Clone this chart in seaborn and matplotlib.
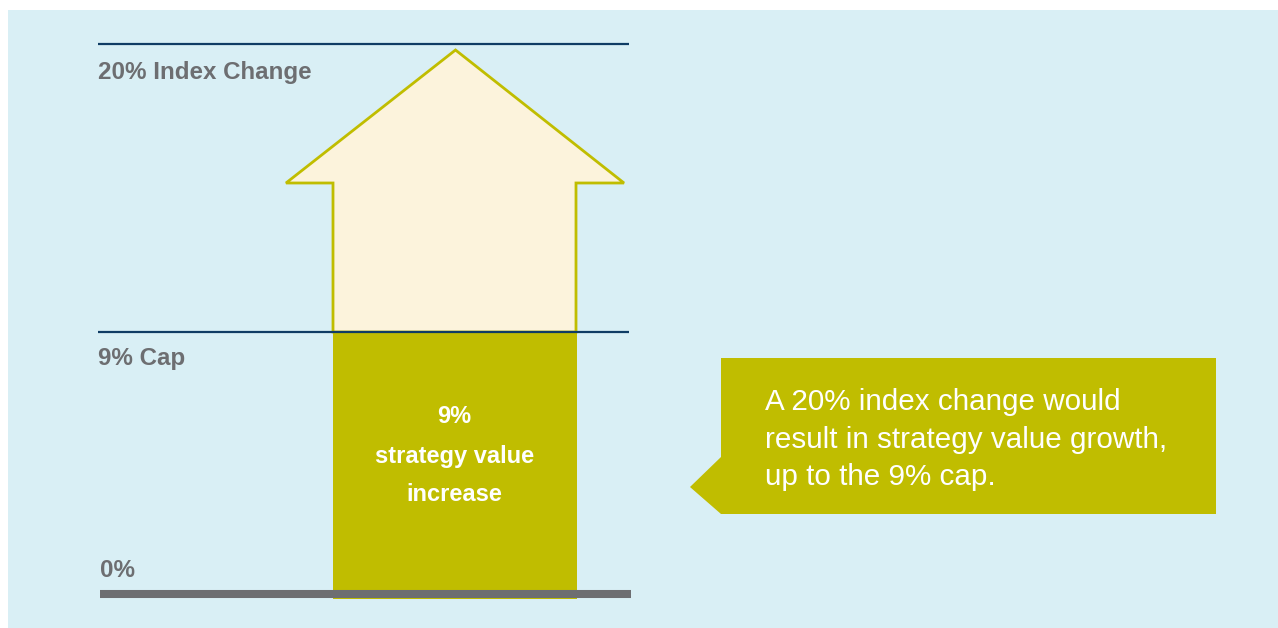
"""
Cap illustration: a 20% index change is credited only up to the 9% cap.
Schematic chart drawn in pixel-like layout coordinates.
"""
import numpy as np
import matplotlib.pyplot as plt
import seaborn as sns
from matplotlib.patches import Polygon

sns.set_theme(style="white")
plt.rcParams["font.family"] = ["Liberation Sans", "DejaVu Sans"]

# ---------------------------------------------------------------------------
# Data
# ---------------------------------------------------------------------------
LEVELS = [0, 9, 20]                                   # % levels on the chart
LEVEL_LABELS = ["0%", "9% Cap", "20% Index Change"]
CAP = 9
INDEX_CHANGE = 20
BAR_TEXT = ["9%", "strategy value", "increase"]
CALLOUT_TEXT = [
    "A 20% index change would",
    "result in strategy value growth,",
    "up to the 9% cap.",
]

# ---------------------------------------------------------------------------
# Layout / style
# ---------------------------------------------------------------------------
W, H = 1278, 628
LEVEL_PIX = [594, 332, 44]          # vertical position of each level
BLUE = "#d9eff5"
OLIVE = "#c0bd00"
CREAM = "#fcf3dc"
NAVY = "#0f3c64"
GREY = "#6d6e71"


def ypix(v):
    return np.interp(v, LEVELS, LEVEL_PIX)


fig = plt.figure(figsize=(W / 100, H / 100), dpi=100, facecolor="white")
ax = fig.add_axes([8 / W, 0, (W - 8) / W, (H - 10) / H])
ax.set_xlim(8, W)
ax.set_ylim(H, 10)
ax.axis("off")
ax.add_patch(plt.Rectangle((8, 10), W, H, color=BLUE, lw=0, zorder=0))

# arrow representing the full index change
x0, x1 = 333, 576
head_l, head_r, head_y = 286, 624, 183
tip_x = (x0 + x1) / 2 + 1
arrow = Polygon(
    [(x0, ypix(CAP)), (x0, head_y), (head_l, head_y), (tip_x, ypix(INDEX_CHANGE) + 6),
     (head_r, head_y), (x1, head_y), (x1, ypix(CAP))],
    closed=True, facecolor=CREAM, edgecolor=OLIVE, lw=2, joinstyle="miter", zorder=2,
)
ax.add_patch(arrow)

# capped bar
ax.bar(
    (x0 + x1) / 2, ypix(0) - ypix(CAP) + 5, bottom=ypix(CAP), width=x1 - x0 + 1,
    color=OLIVE, linewidth=0, zorder=3,
)

# level lines
for v in [CAP, INDEX_CHANGE]:
    ax.plot([98, 629], [ypix(v), ypix(v)], color=NAVY, lw=1.6, solid_capstyle="butt", zorder=4)
ax.plot([100, 631], [ypix(0), ypix(0)], color=GREY, lw=5.8, solid_capstyle="butt", zorder=4)

# level labels
label_y = {0: 570, 9: 358, 20: 72}
for v, lab in zip(LEVELS, LEVEL_LABELS):
    ax.text(98 if v else 100, label_y[v] + 1, lab, fontsize=17.4, fontweight="bold",
            color=GREY, ha="left", va="center", zorder=5)

# text inside the bar
for y, t in zip([417, 457, 495], BAR_TEXT):
    ax.text((x0 + x1) / 2, y, t, fontsize=17, fontweight="bold", color="white",
            ha="center", va="center", zorder=5)

# callout box
callout = Polygon(
    [(721, 358), (1216, 358), (1216, 514), (721, 514), (690, 487), (721, 457)],
    closed=True, facecolor=OLIVE, edgecolor="none", zorder=2,
)
ax.add_patch(callout)
for y, t in zip([400, 438, 475], CALLOUT_TEXT):
    ax.text(765, y + 2, t, fontsize=21.3, color="white", ha="left", va="center", zorder=5)

fig.savefig("out.png", dpi=100, facecolor="white")
